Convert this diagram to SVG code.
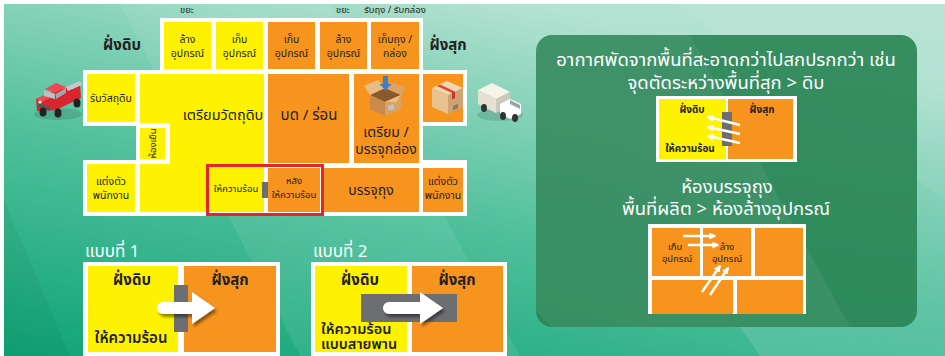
<svg xmlns="http://www.w3.org/2000/svg" width="945" height="356" viewBox="0 0 945 356">
  <defs>
    <linearGradient id="bg" x1="0" y1="1" x2="0.55" y2="0">
      <stop offset="0" stop-color="#0fa475"/>
      <stop offset="0.5" stop-color="#50c09b"/>
      <stop offset="1" stop-color="#b4e2d3"/>
    </linearGradient>
    <linearGradient id="bgRight" x1="0" y1="0" x2="0" y2="1">
      <stop offset="0" stop-color="#a5dccb" stop-opacity="0"/>
      <stop offset="1" stop-color="#5ec3a3" stop-opacity="0.7"/>
    </linearGradient>
    <filter id="shadow" x="-20%" y="-30%" width="150%" height="170%">
      <feDropShadow dx="2" dy="3" stdDeviation="1.5" flood-color="#000" flood-opacity="0.45"/>
    </filter>
    <marker id="head" viewBox="0 0 10 10" refX="8" refY="5" markerWidth="7" markerHeight="7" markerUnits="userSpaceOnUse" orient="auto">
      <path d="M0,0 L10,5 L0,10 Z" fill="#ffffff"/>
    </marker>
    <style>
      text { font-family: "Noto Sans Thai", "Noto Sans", "DejaVu Sans", sans-serif; fill: #231f20; text-anchor: middle; }
      .room { font-size: 10.5px; }
      .big { font-size: 14px; }
      .side { font-size: 15px; font-weight: bold; }
      .note { font-size: 9.5px; }
      .head { font-size: 18.5px; fill: #ffffff; }
      .lbl { font-size: 17px; fill: #ffffff; text-anchor: start; }
      .y { fill: #fff200; }
      .o { fill: #f7941d; }
      .wall { fill: #ffffff; }
      .gray { fill: #6d6e71; }
      .sm { font-size: 10px; font-weight: bold; }
      .flow { stroke: #ffffff; stroke-width: 2.5; fill: none; marker-end: url(#head); }
    </style>
  </defs>

  <!-- background -->
  <rect x="0" y="0" width="945" height="356" fill="#ffffff"/>
  <rect x="4" y="4" width="941" height="352" fill="url(#bg)"/>
  <polygon points="520,4 945,4 945,356 760,356" fill="url(#bgRight)"/>
  <polygon points="120,4 330,4 520,356 300,356" fill="#ffffff" opacity="0.08"/>
  <polygon points="4,200 4,356 70,356" fill="#000000" opacity="0.04"/>
  <polygon points="677,4 945,4 945,200" fill="#ffffff" opacity="0.06"/>

  <!-- floor plan walls -->
  <g id="walls">
    <rect class="wall" x="160" y="18" width="263" height="56"/>
    <rect class="wall" x="83" y="70" width="384" height="56"/>
    <rect class="wall" x="136" y="70" width="287" height="146"/>
    <rect class="wall" x="83" y="160" width="384" height="56"/>
  </g>

  <!-- top row rooms -->
  <g id="wash-raw">
    <rect class="y" x="164" y="22" width="47" height="47"/>
    <text class="room" x="187.5" y="43">ล้าง</text>
    <text class="room" x="187.5" y="57">อุปกรณ์</text>
  </g>
  <g id="store-raw">
    <rect class="y" x="216" y="22" width="47" height="47"/>
    <text class="room" x="239.5" y="43">เก็บ</text>
    <text class="room" x="239.5" y="57">อุปกรณ์</text>
  </g>
  <g id="store-cooked">
    <rect class="o" x="268" y="22" width="47" height="47"/>
    <text class="room" x="291.5" y="43">เก็บ</text>
    <text class="room" x="291.5" y="57">อุปกรณ์</text>
  </g>
  <g id="wash-cooked">
    <rect class="o" x="320" y="22" width="47" height="47"/>
    <text class="room" x="343.5" y="43">ล้าง</text>
    <text class="room" x="343.5" y="57">อุปกรณ์</text>
  </g>
  <g id="store-bags">
    <rect class="o" x="371" y="22" width="48" height="47"/>
    <text class="room" x="395" y="43">เก็บถุง /</text>
    <text class="room" x="395" y="57">กล่อง</text>
  </g>

  <!-- labels above and beside the plan -->
  <g id="top-labels">
    <text class="note" x="187" y="13">ขยะ</text>
    <text class="note" x="343" y="13">ขยะ</text>
    <text class="note" x="395" y="13">รับถุง / รับกล่อง</text>
    <text class="side" x="122" y="50">ฝั่งดิบ</text>
    <text class="side" x="448" y="50">ฝั่งสุก</text>
  </g>

  <!-- raw side rooms -->
  <g id="receive">
    <rect class="y" x="87" y="74" width="48" height="48"/>
    <text class="room" x="111" y="102">รับวัสถุดิบ</text>
  </g>
  <g id="prep-raw">
    <path class="y" d="M140,74 H264 V212 H140 V164 H170 V123 H140 Z"/>
    <text class="big" x="223" y="120" style="font-size:14.5px">เตรียมวัตถุดิบ</text>
  </g>
  <g id="cold-room">
    <rect class="y" x="140" y="128" width="25" height="31"/>
    <text class="note" transform="translate(156,143.5) rotate(-90)">ห้องเย็น</text>
  </g>
  <g id="change-raw">
    <rect class="y" x="87" y="164" width="48" height="48"/>
    <text class="room" x="111" y="185">แต่งตัว</text>
    <text class="room" x="111" y="199">พนักงาน</text>
  </g>

  <!-- cooked side rooms -->
  <g id="grind">
    <rect class="o" x="268" y="74" width="81" height="89"/>
    <text class="big" x="309" y="120" style="font-size:15px">บด / ร่อน</text>
  </g>
  <g id="pack-box">
    <rect class="o" x="354" y="74" width="65" height="89"/>
    <!-- open carton -->
    <path d="M370,95 L385,88 L401,95 L385,102 Z" fill="#8a5a2e"/>
    <path d="M370,95 L364,86 L378,80 L385,88 Z" fill="#e8bd85"/>
    <path d="M401,95 L406,88 L394,83 L385,88 Z" fill="#d9a466"/>
    <path d="M370,95 L385,102 L385,116 L370,109 Z" fill="#c98a4c"/>
    <path d="M385,102 L401,95 L401,109 L385,116 Z" fill="#dca262"/>
    <path d="M401,95 L396,102 L385,102 Z" fill="#e9bf86"/>
    <rect x="388" y="105" width="6" height="5" fill="#b9c4cc" transform="rotate(-24 391 107)"/>
    <path d="M383,76 h5 v8 h3.5 l-6,6.5 l-6,-6.5 h3.5 z" fill="#3f7fc1"/>
    <text class="big" x="386" y="137">เตรียม /</text>
    <text class="big" x="386" y="154">บรรจุกล่อง</text>
  </g>
  <g id="dispatch">
    <rect class="o" x="423" y="74" width="40" height="48"/>
    <!-- sealed carton -->
    <path d="M432,88 L447,81 L463,88 L448,95 Z" fill="#f3d7ae"/>
    <path d="M432,88 L448,95 L448,114 L432,107 Z" fill="#e7c291"/>
    <path d="M448,95 L463,88 L463,107 L448,114 Z" fill="#cfa470"/>
    <path d="M437,86 L452,93 L455,91.5 L440,84.5 Z" fill="#e2473d"/>
    <path d="M452,93 L455,91.5 L455,98 L452,99.5 Z" fill="#c9342c"/>
    <path d="M453,106 L458,103.6 L458,108 L453,110.4 Z" fill="#8d7b68"/>
  </g>
  <g id="after-heat">
    <rect class="o" x="268" y="168" width="52" height="44"/>
    <text class="note" x="294" y="184">หลัง</text>
    <text class="note" x="294" y="198">ให้ความร้อน</text>
  </g>
  <g id="pack-bag">
    <rect class="o" x="324" y="168" width="95" height="44"/>
    <text class="big" x="371" y="195">บรรจุถุง</text>
  </g>
  <g id="change-cooked">
    <rect class="o" x="423" y="168" width="40" height="44"/>
    <text class="room" x="443" y="185">แต่งตัว</text>
    <text class="room" x="443" y="199">พนักงาน</text>
  </g>

  <!-- heating step across the divide -->
  <g id="heat">
    <text class="note" x="236" y="192">ให้ความร้อน</text>
    <rect class="gray" x="262" y="182" width="6" height="16"/>
    <rect x="207.5" y="165.5" width="115" height="49" fill="none" stroke="#e3262b" stroke-width="3"/>
  </g>

  <!-- red pickup -->
  <g id="pickup">
    <ellipse cx="58" cy="114" rx="24" ry="6" fill="#000" opacity="0.12"/>
    <path d="M36,99 L52,92 L80,84 L81,98 L56,110 L37,111 Z" fill="#d7262e"/>
    <path d="M36,99 L52,92 L57,95 L41,102 Z" fill="#ee4a4f"/>
    <path d="M45,89 L56,83 L66,87 L55,93 Z" fill="#ee4a4f"/>
    <path d="M44,90 L55,94 L55,99 L44,96 Z" fill="#b9c2c9"/>
    <path d="M56,94 L66,88 L66,93 L56,99 Z" fill="#9fa9b1"/>
    <path d="M66,87 L80,81 L82,85 L68,91 Z" fill="#c8c8c8"/>
    <path d="M38,103 L50,107 L50,111 L38,107 Z" fill="#555"/>
    <circle cx="40" cy="102" r="1.6" fill="#fff"/>
    <ellipse cx="43" cy="112" rx="3.5" ry="4.5" fill="#222"/>
    <ellipse cx="58" cy="113" rx="3.5" ry="4.5" fill="#222"/>
    <ellipse cx="77" cy="103" rx="3.5" ry="4.5" fill="#222"/>
  </g>

  <!-- delivery truck -->
  <g id="van">
    <ellipse cx="500" cy="115" rx="23" ry="6" fill="#000" opacity="0.12"/>
    <path d="M478,90 L492,83 L510,92 L496,99 Z" fill="#f6f3ea"/>
    <path d="M478,90 L496,99 L496,113 L478,104 Z" fill="#e5e0d2"/>
    <path d="M496,99 L510,92 L510,106 L496,113 Z" fill="#cfc9bb"/>
    <path d="M500,104 L510,99 L521,104 L521,114 L510,119 L500,114 Z" fill="#ffffff"/>
    <path d="M510,100 L520,105 L520,109 L510,104 Z" fill="#9aa3aa"/>
    <ellipse cx="484" cy="108" rx="3" ry="4" fill="#333"/>
    <ellipse cx="503" cy="116" rx="3" ry="4" fill="#333"/>
    <ellipse cx="515" cy="118" rx="3" ry="4" fill="#333"/>
  </g>

  <!-- layout option 1 -->
  <g id="option1">
    <text class="lbl" x="85" y="257">แบบที่ 1</text>
    <rect class="wall" x="83" y="262" width="197" height="94"/>
    <rect class="y" x="88" y="266" width="90" height="86"/>
    <rect class="o" x="184" y="266" width="92" height="86"/>
    <text class="side" x="132" y="285">ฝั่งดิบ</text>
    <text class="side" x="230" y="285">ฝั่งสุก</text>
    <text x="131" y="343" style="font-size:15px;font-weight:600">ให้ความร้อน</text>
    <rect class="gray" x="174" y="285" width="14" height="47"/>
    <path d="M163,302 H192 V292 L215,308 L192,324 V314 H163 A6,6 0 0 1 163,302 Z" fill="#ffffff" filter="url(#shadow)"/>
  </g>

  <!-- layout option 2 -->
  <g id="option2">
    <text class="lbl" x="313" y="257">แบบที่ 2</text>
    <rect class="wall" x="311" y="262" width="196" height="94"/>
    <rect class="y" x="315" y="266" width="92" height="86"/>
    <rect class="o" x="412" y="266" width="91" height="86"/>
    <text class="side" x="360" y="285">ฝั่งดิบ</text>
    <text class="side" x="457" y="285">ฝั่งสุก</text>
    <text x="321" y="334" style="font-size:14.5px;font-weight:600;text-anchor:start">ให้ความร้อน</text>
    <text x="321" y="349" style="font-size:14.5px;font-weight:600;text-anchor:start">แบบสายพาน</text>
    <rect class="gray" x="361" y="294" width="96" height="28"/>
    <path d="M389,302 H420 V292 L443,308 L420,324 V314 H389 A6,6 0 0 1 389,302 Z" fill="#ffffff" filter="url(#shadow)"/>
  </g>

  <!-- airflow panel -->
  <g id="airflow-panel">
    <rect x="536" y="35" width="381" height="292" rx="16" fill="#2a8556" opacity="0.92"/>
    <polygon points="536,35 690,35 850,327 552,327 536,311" fill="#ffffff" opacity="0.06"/>
    <text class="head" x="726" y="66">อากาศพัดจากพื้นที่สะอาดกว่าไปสกปรกกว่า เช่น</text>
    <text class="head" x="726" y="89">จุดตัดระหว่างพื้นที่สุก &gt; ดิบ</text>
    <text class="head" x="727" y="193">ห้องบรรจุถุง</text>
    <text class="head" x="726" y="215">พื้นที่ผลิต &gt; ห้องล้างอุปกรณ์</text>
  </g>

  <g id="airflow-divide">
    <rect class="wall" x="656" y="96" width="141" height="66"/>
    <rect class="y" x="659" y="99" width="67" height="60"/>
    <rect class="o" x="728" y="99" width="65" height="60"/>
    <text class="sm" x="692" y="113">ฝั่งดิบ</text>
    <text class="sm" x="762" y="113">ฝั่งสุก</text>
    <text class="sm" x="690" y="152">ให้ความร้อน</text>
    <rect class="gray" x="722" y="112" width="10" height="34"/>
  </g>

  <g id="airflow-packing">
    <rect class="wall" x="648" y="224" width="158" height="90"/>
    <rect class="o" x="652" y="228" width="48" height="48"/>
    <rect class="o" x="703" y="228" width="48" height="48"/>
    <rect class="o" x="755" y="228" width="48" height="48"/>
    <rect class="o" x="652" y="280" width="81" height="34"/>
    <rect class="o" x="737" y="280" width="66" height="34"/>
    <text class="note" x="675" y="250">เก็บ</text>
    <text class="note" x="677" y="262">อุปกรณ์</text>
    <text class="note" x="727" y="250">ล้าง</text>
    <text class="note" x="727" y="262">อุปกรณ์</text>
  </g>

  <!-- airflow arrows -->
  <g id="connectors">
    <line class="flow" x1="740" y1="125" x2="708" y2="117"/>
    <line class="flow" x1="740" y1="134" x2="708" y2="127"/>
    <line class="flow" x1="740" y1="143" x2="708" y2="136"/>
    <line class="flow" x1="683" y1="236" x2="715" y2="236"/>
    <line class="flow" x1="688" y1="245" x2="718" y2="245"/>
    <line class="flow" x1="702" y1="292" x2="720" y2="266"/>
    <line class="flow" x1="710" y1="295" x2="728" y2="268"/>
  </g>
</svg>
